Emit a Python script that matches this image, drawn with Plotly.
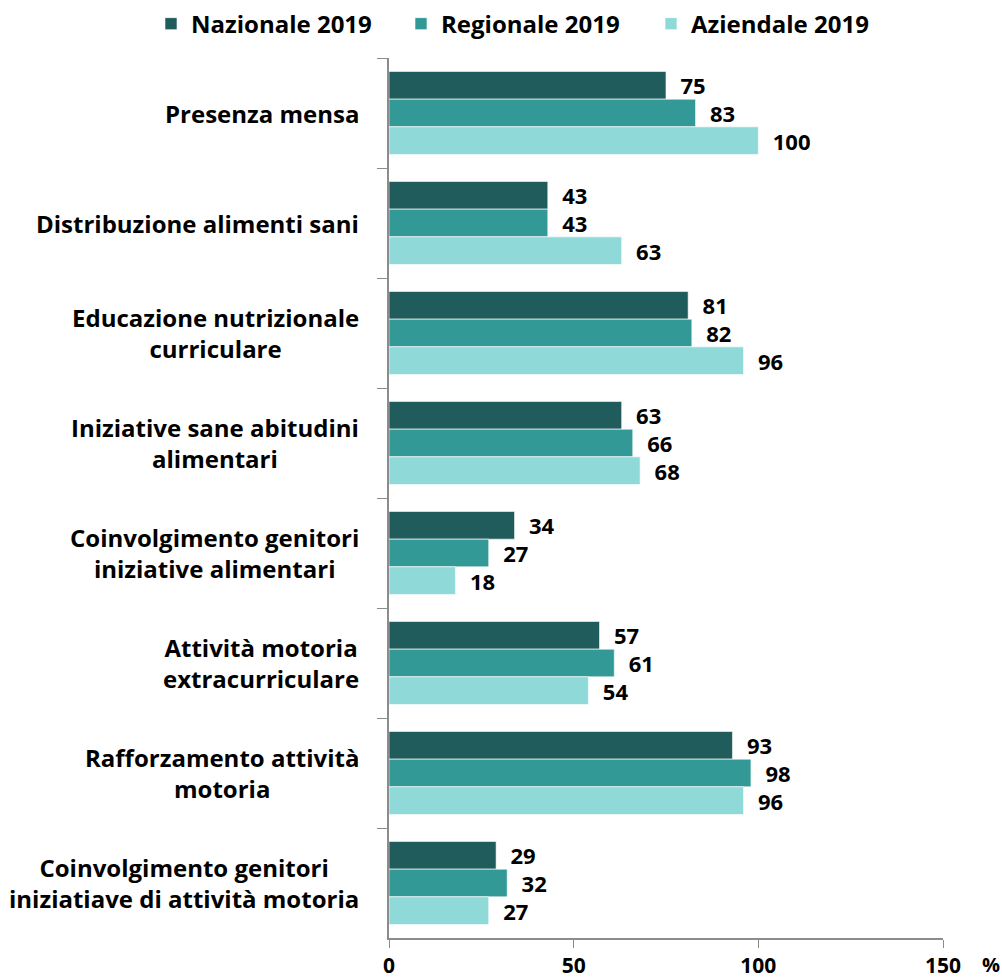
import plotly.graph_objects as go

# dati
categorie = [
    "Presenza mensa",
    "Distribuzione alimenti sani",
    "Educazione nutrizionale<br>curriculare",
    "Iniziative sane abitudini<br>alimentari",
    "Coinvolgimento genitori<br>iniziative alimentari",
    "Attività motoria<br>extracurriculare",
    "Rafforzamento attività<br>motoria",
    "Coinvolgimento genitori<br>iniziatiave di attività motoria",
]
nazionale = [75, 43, 81, 63, 34, 57, 93, 29]
regionale = [83, 43, 82, 66, 27, 61, 98, 32]
aziendale = [100, 63, 96, 68, 18, 54, 96, 27]

serie = [
    ("Nazionale 2019", nazionale, "#1f5c5b"),
    ("Regionale 2019", regionale, "#339997"),
    ("Aziendale 2019", aziendale, "#8fdad8"),
]

FONT = "'Open Sans', sans-serif"
NBSP = "\u00a0"

fig = go.Figure()

for nome, valori, colore in serie:
    fig.add_trace(go.Bar(
        y=categorie,
        x=valori,
        name=f"<b>{nome}</b>",
        orientation="h",
        marker=dict(color=colore, line=dict(color="white", width=0.6)),
        text=[f"<b>{NBSP * 2}{v}</b>" for v in valori],
        textposition="outside",
        constraintext="none",
        textfont=dict(size=22, color="black", family=FONT),
        cliponaxis=False,
    ))

# etichette categorie centrate
for c in categorie:
    fig.add_annotation(
        x=-0.0505, xref="paper", y=c, yref="y",
        text=f"<b>{c}</b>", showarrow=False,
        xanchor="right", align="center",
        font=dict(size=24, color="black", family=FONT),
    )

fig.add_annotation(
    x=1.0866, xref="paper", y=-0.03, yref="paper",
    text="<b>%</b>", showarrow=False, xanchor="center", yanchor="middle",
    font=dict(size=20, color="black", family=FONT),
)

fig.update_layout(
    width=1002,
    height=980,
    margin=dict(l=389, r=59, t=58, b=42, autoexpand=False),
    plot_bgcolor="white",
    paper_bgcolor="white",
    barmode="group",
    bargap=0.245,
    bargroupgap=0,
    font=dict(family=FONT, size=24, color="black"),
    legend=dict(
        orientation="h", x=-0.4296, xanchor="left", y=1.0386, yanchor="middle",
        font=dict(size=24, family=FONT), traceorder="normal",
        entrywidth=205,
    ),
)

fig.update_xaxes(
    range=[0, 150], dtick=50, showgrid=False, zeroline=False,
    showline=True, linecolor="#8c8c8c", linewidth=1.5,
    ticks="outside", ticklen=8, tickcolor="#8c8c8c",
    tickfont=dict(size=21, family=FONT),
    tickprefix="<b>", ticksuffix="</b>",
    ticklabelstandoff=0, automargin=False,
)
fig.update_yaxes(
    autorange="reversed", showticklabels=False, showgrid=False,
    showline=True, linecolor="#8c8c8c", linewidth=1.5,
    ticks="outside", ticklen=10, tickcolor="#8c8c8c", tickson="boundaries",
    automargin=False,
)

fig.write_html(
    "out.html",
    config={"displayModeBar": False},
    post_script="document.body.style.margin='0';",
)
